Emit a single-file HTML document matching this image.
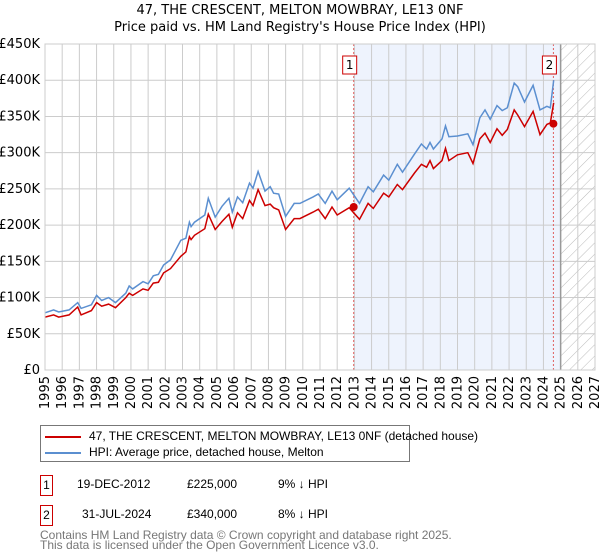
<!DOCTYPE html>
<html><head><meta charset="utf-8"><style>
body{margin:0;background:#fff;font-family:"DejaVu Sans","Liberation Sans",sans-serif;}
#wrap{position:relative;width:600px;height:560px;overflow:hidden}
.t{position:absolute;font-size:13px;color:#000;white-space:nowrap}
.s{font-family:"Liberation Sans",sans-serif;font-size:12px}
</style></head><body><div id="wrap">
<div class="t" style="left:0;width:600px;text-align:center;top:2px;line-height:17px">47, THE CRESCENT, MELTON MOWBRAY, LE13 0NF<br>Price paid vs. HM Land Registry's House Price Index (HPI)</div>
<svg id="chart" width="600" height="410" style="position:absolute;left:0;top:0"></svg>
<div class="s" style="position:absolute;left:40px;top:425px;width:368px;height:35px;border:1px solid #777;white-space:nowrap">
<div style="position:absolute;left:4px;top:3px"><span style="display:inline-block;width:36px;height:2px;background:#cc0000;vertical-align:middle;margin-right:8px"></span>47, THE CRESCENT, MELTON MOWBRAY, LE13 0NF (detached house)</div>
<div style="position:absolute;left:4px;top:19px"><span style="display:inline-block;width:36px;height:2px;background:#5b8fd0;vertical-align:middle;margin-right:8px"></span>HPI: Average price, detached house, Melton</div>
</div>
<div>
<div class="t s" style="left:40px;top:475px;width:11px;height:19px;border:1px solid #cc0000;text-align:center;line-height:19px">1</div>
<div class="t s" style="left:77px;top:477px">19-DEC-2012</div>
<div class="t s" style="left:187px;top:477px">£225,000</div>
<div class="t s" style="left:278px;top:477px">9% ↓ HPI</div>
</div>
<div>
<div class="t s" style="left:40px;top:505px;width:11px;height:19px;border:1px solid #cc0000;text-align:center;line-height:19px">2</div>
<div class="t s" style="left:82px;top:507px">31-JUL-2024</div>
<div class="t s" style="left:187px;top:507px">£340,000</div>
<div class="t s" style="left:278px;top:507px">8% ↓ HPI</div>
</div>
<div class="t s" style="left:40px;top:530px;color:#777;line-height:10px">Contains HM Land Registry data © Crown copyright and database right 2025.<br>This data is licensed under the Open Government Licence v3.0.</div>
</div>
<script>
const years=[1995,1996,1997,1998,1999,2000,2001,2002,2003,2004,2005,2006,2007,2008,2009,2010,2011,2012,2013,2014,2015,2016,2017,2018,2019,2020,2021,2022,2023,2024,2025,2026,2027];
const yTicks=[0,50,100,150,200,250,300,350,400,450];
const hpiT=[1995.0,1995.5,1995.8,1996.4,1996.9,1997.1,1997.7,1998.0,1998.3,1998.7,1999.1,1999.7,1999.9,2000.1,2000.7,2001.0,2001.3,2001.6,2001.9,2002.3,2002.9,2003.2,2003.4,2003.5,2003.7,2004.3,2004.5,2004.9,2005.3,2005.7,2005.9,2006.2,2006.5,2006.9,2007.1,2007.4,2007.8,2008.1,2008.3,2008.6,2009.0,2009.5,2009.83,2010.6,2010.9,2011.3,2011.7,2012.0,2012.7,2013.3,2013.8,2014.1,2014.7,2015.0,2015.5,2015.8,2016.5,2016.9,2017.2,2017.4,2017.6,2018.1,2018.3,2018.5,2019.0,2019.6,2019.9,2020.3,2020.6,2020.9,2021.3,2021.6,2021.9,2022.3,2022.5,2022.9,2023.4,2023.8,2024.2,2024.4,2024.6];
const hpiV=[79,83,80,83,93,85,90,103,96,100,93,106,116,112,122,119,130,132,145,152,179,182,204,198,204,214,237,211,226,237,218,239,231,258,251,274,247,253,244,243,212,230,230,239,243,230,247,235,251,230,253,246,269,262,284,273,298,312,305,314,305,319,337,322,323,326,311,348,359,346,365,358,362,396,391,370,393,359,364,362,400];
const ppV=[73,76,73,76,87,76,82,93,88,91,86,100,106,103,112,110,120,121,134,140,157,163,184,180,186,195,215,194,205,215,197,217,209,234,227,249,227,229,224,221,194,209,209,218,222,209,225,214,224,208,230,223,244,239,256,249,272,284,280,289,278,289,306,289,297,300,285,319,327,314,333,324,332,359,352,336,357,325,339,341,369];
const saleT=[2012.96,2024.58];
const saleV=[225,340];
const saleLabels=["1","2"];
const L=45,R=595,T=44,B=370;
const X=y=>L+(y-1995)*(R-L)/32;
const Y=v=>B-v*(B-T)/450;
const svg=document.getElementById('chart');
const NS='http://www.w3.org/2000/svg';
function mk(tag,attrs,parent){const e=document.createElementNS(NS,tag);for(const k in attrs)e.setAttribute(k,attrs[k]);(parent||svg).appendChild(e);return e;}
const defs=mk('defs',{});
const pat=mk('pattern',{id:'hatch',width:8,height:8,patternUnits:'userSpaceOnUse',patternTransform:'rotate(45)'},defs);
mk('line',{x1:0,y1:0,x2:0,y2:8,stroke:'#bbb','stroke-width':1},pat);
let r=mk('rect',{x:X(saleT[0]),y:T,width:X(2025)-X(saleT[0]),height:B-T,fill:'#eef3fd'});


r=mk('rect',{x:X(2025),y:T,width:R-X(2025),height:B-T,fill:'url(#hatch)'});


yTicks.forEach(v=>{
 const l=mk('line',{x1:L,x2:R,y1:Y(v),y2:Y(v),stroke:'#ccc','stroke-width':1});
 
 
 const t=mk('text',{x:L-5,y:Y(v)+4,'text-anchor':'end','font-size':13,'font-family':'DejaVu Sans, Liberation Sans, sans-serif'});
 t.textContent=v===0?'£0':'£'+v+'K';
 
 
});
years.forEach(y=>{
 const l=mk('line',{x1:X(y),x2:X(y),y1:T,y2:B,stroke:'#ccc','stroke-width':1});
 
 
 const t=mk('text',{x:0,y:0,'text-anchor':'end','font-size':13,'font-family':'DejaVu Sans, Liberation Sans, sans-serif',transform:`translate(${X(y)+4},${B+6}) rotate(-90)`});
 t.textContent=y;
 
 
});
const nl=mk('line',{x1:X(2025),x2:X(2025),y1:T,y2:B,stroke:'#999','stroke-width':1.5});


saleT.forEach((s,i)=>{
 const l=mk('line',{x1:X(s),x2:X(s),y1:T,y2:B,stroke:'#e06060','stroke-width':1,'stroke-dasharray':'2,2'});
 
 
 const bx=mk('rect',{x:X(s)-11,y:56,width:14,height:18,fill:'#fff',stroke:'#cc0000'});
 
 
 const t=mk('text',{x:X(s)-4,y:69,'text-anchor':'middle','font-size':12,'font-family':'DejaVu Sans, sans-serif'});
 t.textContent=saleLabels[i];
 
 
});
const path=(vals)=>hpiT.map((t,i)=>(i?'L':'M')+X(t).toFixed(1)+','+Y(vals[i]).toFixed(1)).join('');
let p=mk('path',{d:path(hpiV),fill:'none',stroke:'#5b8fd0','stroke-width':1.5});


p=mk('path',{d:path(ppV),fill:'none',stroke:'#cc0000','stroke-width':1.5});


saleT.forEach((s,i)=>{
 const c=mk('circle',{cx:X(s),cy:Y(saleV[i]),r:4,fill:'#cc0000'});
 
 
});
const fr=mk('rect',{x:L,y:T,width:R-L,height:B-T,fill:'none',stroke:'#ccc'});


</script></body></html>
